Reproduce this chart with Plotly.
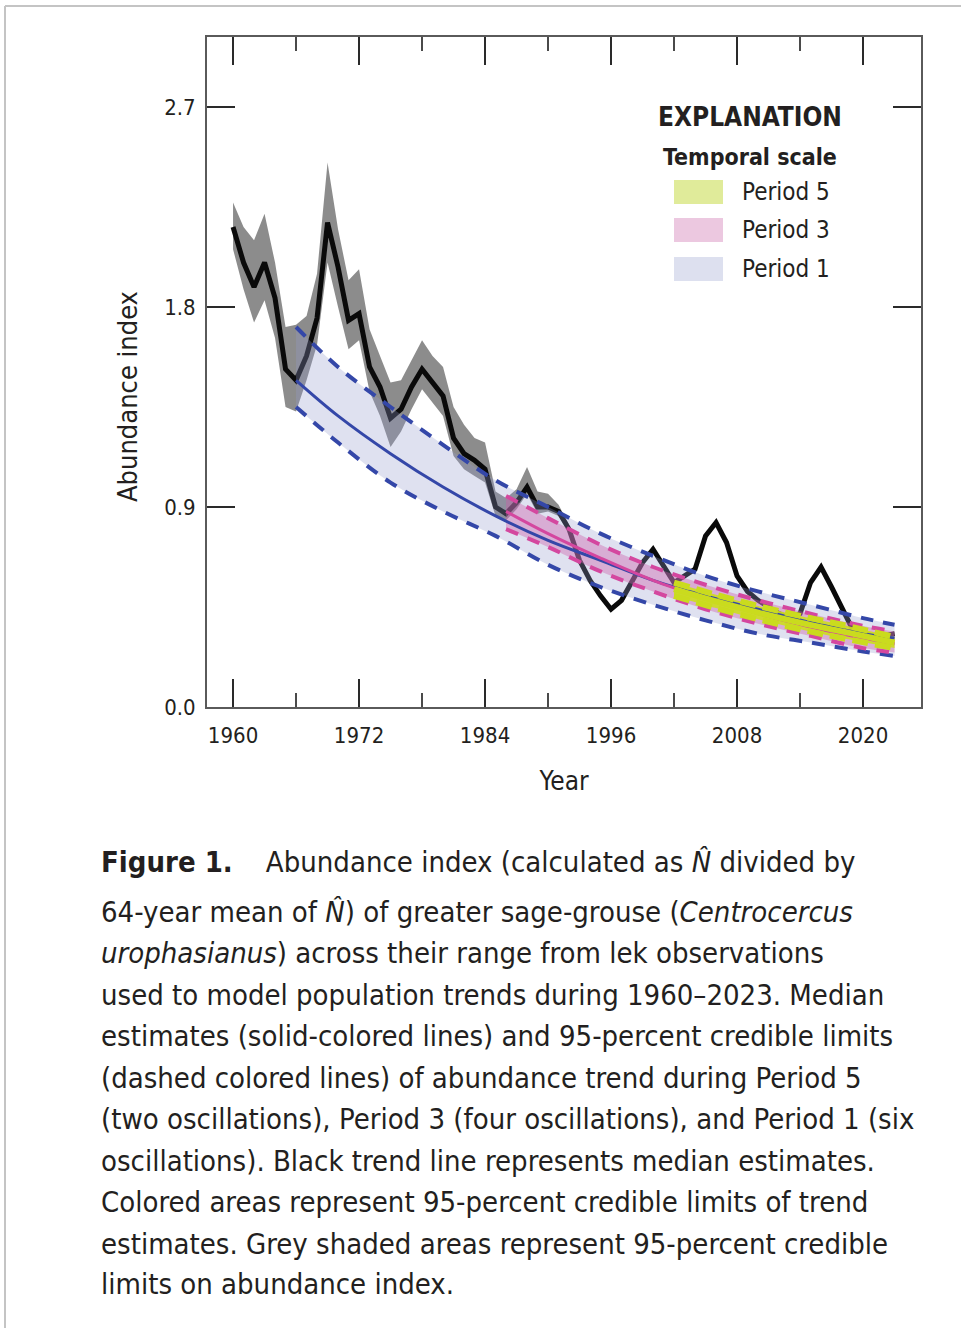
import plotly.graph_objects as go

# ---------------- data ----------------
years = list(range(1960, 2024))
abundance_median = [2.16, 2.00, 1.89, 2.00, 1.84, 1.52, 1.47, 1.58, 1.75, 2.18,
                    1.98, 1.74, 1.77, 1.53, 1.44, 1.30, 1.34, 1.44, 1.52, 1.46,
                    1.40, 1.21, 1.14, 1.11, 1.07, 0.90, 0.87, 0.92, 0.99, 0.90,
                    0.90, 0.88, 0.80, 0.66, 0.57, 0.50, 0.44, 0.48, 0.57, 0.65,
                    0.71, 0.64, 0.56, 0.59, 0.62, 0.77, 0.83, 0.74, 0.59, 0.52,
                    0.48, 0.45, 0.42, 0.40, 0.42, 0.56, 0.63, 0.54, 0.44, 0.35,
                    0.33, 0.32, 0.32, 0.33]
abundance_lower = [2.06, 1.88, 1.73, 1.83, 1.66, 1.35, 1.33, 1.47, 1.63, 2.00,
                   1.80, 1.61, 1.65, 1.42, 1.31, 1.17, 1.24, 1.34, 1.43, 1.37,
                   1.31, 1.13, 1.07, 1.04, 1.01, 0.86, 0.84, 0.89, 0.96, 0.87,
                   0.88, 0.86, 0.79, 0.65, 0.56, 0.49, 0.43, 0.47, 0.56, 0.64,
                   0.70, 0.63, 0.55, 0.58, 0.61, 0.76, 0.82, 0.73, 0.58, 0.51,
                   0.47, 0.44, 0.41, 0.39, 0.41, 0.55, 0.62, 0.53, 0.43, 0.34,
                   0.32, 0.31, 0.31, 0.32]
abundance_upper = [2.27, 2.16, 2.10, 2.22, 2.00, 1.71, 1.72, 1.76, 1.95, 2.45,
                   2.15, 1.92, 1.97, 1.70, 1.58, 1.46, 1.47, 1.56, 1.65, 1.58,
                   1.53, 1.35, 1.27, 1.21, 1.19, 0.97, 0.94, 0.98, 1.08, 0.97,
                   0.96, 0.91, 0.82, 0.67, 0.58, 0.51, 0.45, 0.49, 0.58, 0.66,
                   0.72, 0.65, 0.57, 0.60, 0.63, 0.78, 0.84, 0.75, 0.60, 0.53,
                   0.49, 0.46, 0.43, 0.41, 0.43, 0.57, 0.64, 0.55, 0.45, 0.36,
                   0.34, 0.33, 0.33, 0.34]

p1_years = [1966, 1970, 1975, 1980, 1985, 1990, 1995, 2000, 2005, 2010, 2015, 2020, 2023]
p1_median = [1.47, 1.31, 1.14, 0.99, 0.86, 0.75, 0.66, 0.57, 0.50, 0.44, 0.38, 0.33, 0.31]
p1_upper = [1.71, 1.53, 1.35, 1.18, 1.02, 0.90, 0.78, 0.68, 0.59, 0.52, 0.46, 0.40, 0.37]
p1_lower = [1.35, 1.19, 1.01, 0.88, 0.77, 0.64, 0.54, 0.46, 0.39, 0.33, 0.29, 0.25, 0.23]

p3_years = [1986, 1990, 1995, 2000, 2005, 2010, 2015, 2020, 2023]
p3_median = [0.88, 0.78, 0.67, 0.57, 0.49, 0.42, 0.36, 0.31, 0.285]
p3_upper = [0.95, 0.85, 0.73, 0.63, 0.55, 0.48, 0.42, 0.365, 0.34]
p3_lower = [0.80, 0.72, 0.61, 0.52, 0.44, 0.375, 0.32, 0.265, 0.245]

p5_years = [2002, 2006, 2010, 2014, 2018, 2023]
p5_median = [0.53, 0.475, 0.425, 0.38, 0.34, 0.29]
p5_upper = [0.56, 0.505, 0.455, 0.41, 0.37, 0.315]
p5_lower = [0.50, 0.445, 0.395, 0.35, 0.31, 0.265]

legend_labels = ["Period 5", "Period 3", "Period 1"]
x_tick_vals = [1960, 1972, 1984, 1996, 2008, 2020]
x_minor_vals = [1966, 1978, 1990, 2002, 2014]
y_tick_vals = [0.0, 0.9, 1.8, 2.7]
y_tick_text = ["0.0", "0.9", "1.8", "2.7"]

caption_lines = [
    "<b>Figure 1.</b>    Abundance index (calculated as <i>N\u0302</i> divided by",
    "64-year mean of <i>N\u0302</i>) of greater sage-grouse (<i>Centrocercus</i>",
    "<i>urophasianus</i>) across their range from lek observations",
    "used to model population trends during 1960\u20132023. Median",
    "estimates (solid-colored lines) and 95-percent credible limits",
    "(dashed colored lines) of abundance trend during Period 5",
    "(two oscillations), Period 3 (four oscillations), and Period 1 (six",
    "oscillations). Black trend line represents median estimates.",
    "Colored areas represent 95-percent credible limits of trend",
    "estimates. Grey shaded areas represent 95-percent credible",
    "limits on abundance index.",
]

# ---------------- style ----------------
FONT = "DejaVu Sans Condensed, Liberation Sans Narrow, Roboto Condensed, sans-serif"
TXT = "#231f20"
BLUE = "#3447a8"
PINK = "#d4479f"
YEL = "#cadb1e"

W, H = 961, 1328
L, R, T, B = 207, 921, 37, 707


def px(xp):
    return (xp - L) / (R - L)


def py(yp):
    return (B - yp) / (B - T)


fig = go.Figure()

# grey credible band
fig.add_trace(go.Scatter(x=years, y=abundance_upper, mode="lines", line=dict(width=0, color="rgba(0,0,0,0)"),
                         showlegend=False, hoverinfo="skip"))
fig.add_trace(go.Scatter(x=years, y=abundance_lower, mode="lines", line=dict(width=0, color="rgba(0,0,0,0)"),
                         fill="tonexty", fillcolor="rgba(120,120,120,0.85)", showlegend=False, hoverinfo="skip"))
# black median
fig.add_trace(go.Scatter(x=years, y=abundance_median, mode="lines",
                         line=dict(color="#0a0a0a", width=5, shape="linear"), showlegend=False))


def band(xs, lo, hi, fillcolor):
    fig.add_trace(go.Scatter(x=xs, y=hi, mode="lines", line=dict(width=0, shape="spline", color="rgba(0,0,0,0)"),
                             showlegend=False, hoverinfo="skip"))
    fig.add_trace(go.Scatter(x=xs, y=lo, mode="lines", line=dict(width=0, shape="spline", color="rgba(0,0,0,0)"),
                             fill="tonexty", fillcolor=fillcolor, showlegend=False, hoverinfo="skip"))


def lines(xs, lo, med, hi, color, mw, dw, dash):
    for ys, w, d in ((hi, dw, dash), (lo, dw, dash), (med, mw, "solid")):
        fig.add_trace(go.Scatter(x=xs, y=ys, mode="lines",
                                 line=dict(color=color, width=w, dash=d, shape="spline"),
                                 showlegend=False))


band(p1_years, p1_lower, p1_upper, "rgba(148,155,205,0.30)")
band(p3_years, p3_lower, p3_upper, "rgba(205,95,170,0.40)")
band(p5_years, p5_lower, p5_upper, "rgba(205,222,30,0.90)")
lines(p1_years, p1_lower, p1_median, p1_upper, BLUE, 3, 4, "13px,10px")
lines(p3_years, p3_lower, p3_median, p3_upper, PINK, 3, 4, "13px,10px")
lines(p5_years, p5_lower, p5_median, p5_upper, YEL, 6, 6, "16px,7px")

axis_common = dict(showline=True, linecolor="#5a5a5a", linewidth=2, mirror="ticks",
                   ticks="inside", tickcolor="#2a2a2a", tickwidth=1.5, ticklen=28,
                   showgrid=False, zeroline=False,
                   tickfont=dict(family=FONT, size=22, color=TXT))

fig.update_xaxes(range=[1957.52, 2025.52], tickvals=x_tick_vals, ticklabelstandoff=8,
                 minor=dict(tickvals=x_minor_vals, ticks="inside", ticklen=14,
                            tickcolor="#4a4a4a", tickwidth=1.5),
                 title=dict(text="Year", font=dict(family=FONT, size=26, color=TXT), standoff=24),
                 **axis_common)
fig.update_yaxes(range=[0, 3.015], tickvals=y_tick_vals, ticktext=y_tick_text, ticklabelstandoff=5,
                 **axis_common)

# y-axis title (placed like the reference, slightly below the axis centre)
ann = [dict(x=px(127), y=py(397), text="Abundance index", textangle=-90,
            font=dict(family=FONT, size=27, color=TXT))]

# legend (explanation box)
ann += [
    dict(x=px(750), y=py(117), text="<b>EXPLANATION</b>", font=dict(family=FONT, size=26, color=TXT)),
    dict(x=px(750), y=py(157), text="<b>Temporal scale</b>", font=dict(family=FONT, size=23, color=TXT)),
]
sw_colors = ["#e0eb9a", "#ecc8e0", "#dde0ef"]
sw_y = [192, 230, 269]
shapes = []
for lab, col, yy in zip(legend_labels, sw_colors, sw_y):
    shapes.append(dict(type="rect", xref="paper", yref="paper", x0=px(674), x1=px(723),
                       y0=py(yy - 12), y1=py(yy + 12), fillcolor=col, line=dict(width=0)))
    ann.append(dict(x=px(740), y=py(yy), text=lab, xanchor="left",
                    font=dict(family=FONT, size=24, color=TXT)))

cap_y = [862, 912, 953, 995, 1036, 1078, 1119, 1161, 1202, 1244, 1284]
for line, yy in zip(caption_lines, cap_y):
    ann.append(dict(x=px(99), y=py(yy), text=line, xanchor="left",
                    font=dict(family=FONT, size=29, color=TXT)))

for a in ann:
    a.update(xref="paper", yref="paper", showarrow=False, yanchor=a.get("yanchor", "middle"),
             xanchor=a.get("xanchor", "center"))

# page frame lines
shapes.append(dict(type="line", xref="paper", yref="paper", x0=px(5), x1=px(961), y0=py(6), y1=py(6),
                   line=dict(color="#c4c4c4", width=2)))
shapes.append(dict(type="line", xref="paper", yref="paper", x0=px(5), x1=px(5), y0=py(6), y1=py(1328),
                   line=dict(color="#c4c4c4", width=2)))

fig.update_layout(width=W, height=H, margin=dict(l=L, r=W - R, t=T, b=H - B),
                  paper_bgcolor="white", plot_bgcolor="white",
                  annotations=ann, shapes=shapes, showlegend=False,
                  font=dict(family=FONT, color=TXT))

fig.write_html("out.html", config={"displayModeBar": False},
               post_script="document.body.style.margin='0';document.body.style.overflow='hidden';")
